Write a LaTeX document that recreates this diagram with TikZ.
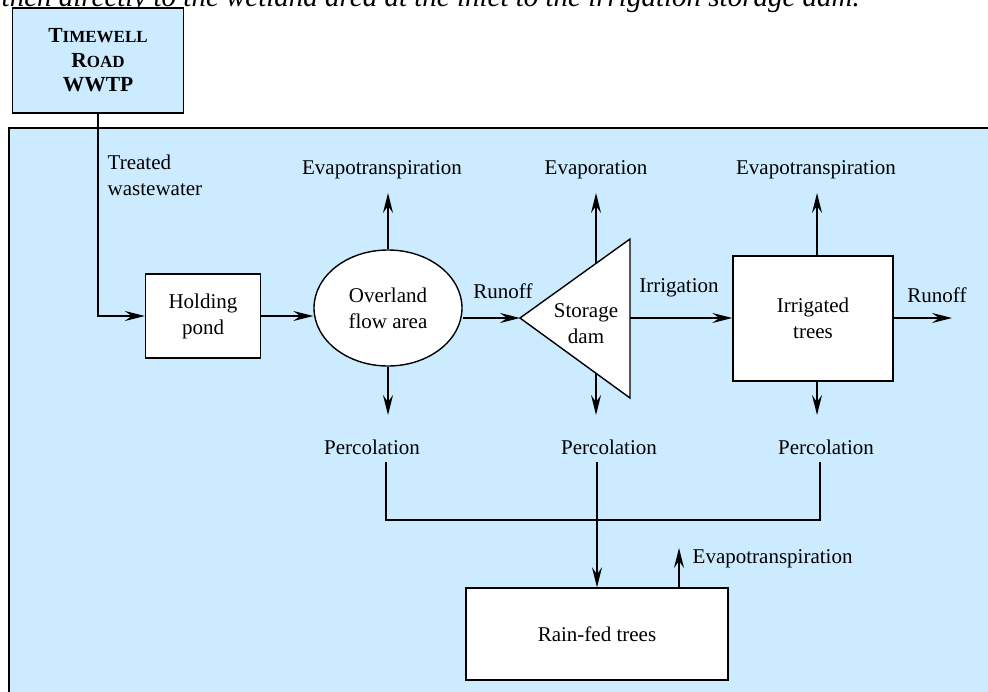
\documentclass[tikz,border=0pt]{standalone}
\usepackage{fontspec}
\setmainfont{Liberation Serif}
\usetikzlibrary{arrows.meta,shapes.geometric,calc}
\definecolor{panel}{RGB}{204,235,255}
\newcommand{\bigsc}[2]{#1{\fontsize{17}{25}\selectfont #2}}
\begin{document}
\begin{tikzpicture}[x=1pt,y=-1pt,line width=1.4pt,
  lbl/.style={font=\fontsize{21}{26}\selectfont,align=center,inner sep=0pt},
  box/.style={draw,fill=white,line width=1.4pt,font=\fontsize{21}{26}\selectfont,align=center,inner sep=0pt},
  arr/.style={-{Stealth[length=20pt,width=10pt,inset=7pt]}}]
\useasboundingbox (0,0) rectangle (988,691);
\clip (0,0) rectangle (988,691);
% cut-off caption at the top
\node[anchor=base west,inner sep=0pt,font=\fontsize{29}{34}\selectfont\itshape] (cap) at (1,6)
  {then directly to the wetland area at the inlet to the irrigation storage dam.};
% panel
\fill[panel] (9,128) rectangle (1000,700);
\draw (9,700) -- (9,128) -- (1000,128);
% WWTP
\node[draw,fill=panel,minimum width=171,minimum height=105,align=center,inner sep=0pt,
  font=\bfseries\fontsize{21.5}{24.5}\selectfont] (wwtp) at (98,60.5)
  {\bigsc{T}{IMEWELL}\\\bigsc{R}{OAD}\\WWTP};
% nodes
\node[box,minimum width=115,minimum height=84] (pond) at (203,316) {Holding\\pond};
\node[box,ellipse,minimum width=148,minimum height=116] (over) at (388,308) {Overland\\flow area};
\coordinate (tl) at (520,318);
\coordinate (tt) at (630,239);
\coordinate (tb) at (630,398);
\draw[fill=white] (tl) -- (tt) -- (tb) -- cycle;
\node[lbl] (dam) at (586,324) {Storage\\dam};
\coordinate (dtop) at ($(tl)!0.691!(tt)$);
\coordinate (dbot) at ($(tl)!0.691!(tb)$);
\node[box,minimum width=160,minimum height=125] (irr) at (813,318.5) {Irrigated\\trees};
\node[box,minimum width=262,minimum height=92] (rain) at (597,634) {Rain-fed trees};
% labels
\node[lbl,anchor=west,align=left] (tw) at (107,175) {Treated\\wastewater};
\node[lbl] (e1) at (382,170) {Evapotranspiration};
\node[lbl] (e2) at (596,170) {Evaporation};
\node[lbl] (e3) at (816,170) {Evapotranspiration};
\node[lbl] (r1) at (503,291) {Runoff};
\node[lbl] (ir) at (679,288) {Irrigation};
\node[lbl] (r2) at (937,295) {Runoff};
\node[lbl] (p1) at (372,447) {Percolation};
\node[lbl] (p2) at (609,447) {Percolation};
\node[lbl] (p3) at (826,447) {Percolation};
\node[lbl,anchor=west] (e4) at (692,559) {Evapotranspiration};
% connectors
\draw[arr] (wwtp.south) |- (pond.west);
\draw[arr] (pond.east) -- (pond.east -| over.west);
\draw[arr] (over.east |- tl) -- (tl);
\draw[arr] (tb |- tl) -- (irr.west |- tl);
\draw[arr] (irr.east |- tl) -- (952,318);
\draw[arr] (over.north) -- (over.north |- 0,193);
\draw[arr] (dtop) -- (dtop |- 0,193);
\draw[arr] (irr.north -| 817,0) -- (817,193);
\draw[arr] (over.south) -- (over.south |- 0,415);
\draw[arr] (dbot) -- (dbot |- 0,415);
\draw[arr] (irr.south -| 817,0) -- (817,415);
\draw (386,462) |- (820,520) -- (820,462);
\draw[arr] (597,462) -- (rain.north);
\draw[arr] (rain.north -| 679,0) -- (679,548);
\end{tikzpicture}
\end{document}
